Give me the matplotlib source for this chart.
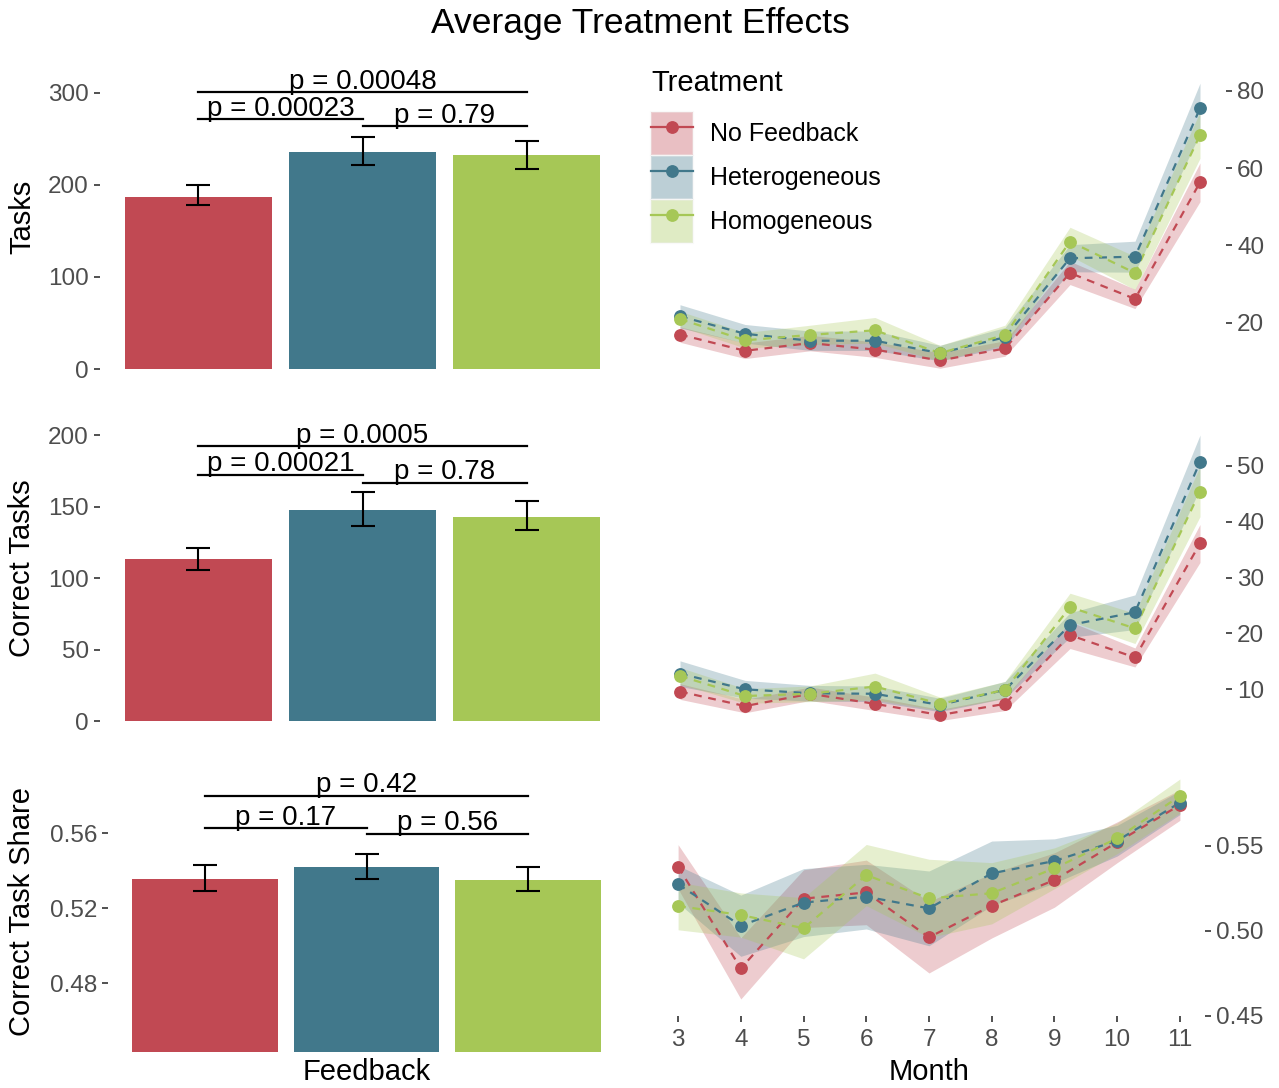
import matplotlib
matplotlib.use("Agg")
import matplotlib.pyplot as plt
import numpy as np
from matplotlib.lines import Line2D
from matplotlib.patches import Patch
from matplotlib.legend_handler import HandlerTuple
from matplotlib.ticker import FormatStrFormatter

plt.rcParams["font.family"] = ["Liberation Sans", "DejaVu Sans"]

GROUPS = ["No Feedback", "Heterogeneous", "Homogeneous"]
COLORS = ["#C14953", "#41788B", "#A6C756"]

# overall averages (bar panels)
tasks_mean = [187.0, 236.0, 232.0]
tasks_lo = [178.0, 221.0, 217.0]
tasks_hi = [200.0, 252.0, 247.0]
correct_mean = [113.6, 147.8, 143.0]
correct_lo = [105.7, 136.7, 133.6]
correct_hi = [121.3, 160.0, 153.7]
share_mean = [0.5355, 0.5419, 0.5352]
share_lo = [0.5291, 0.5357, 0.5291]
share_hi = [0.5428, 0.5488, 0.5417]

# pairwise tests: (group a, group b, bracket height, label)
tasks_tests = [(0, 2, 300.4, "p = 0.00048"), (0, 1, 271.4, "p = 0.00023"), (1, 2, 263.4, "p = 0.79")]
correct_tests = [(0, 2, 192.1, "p = 0.0005"), (0, 1, 172.3, "p = 0.00021"), (1, 2, 166.5, "p = 0.78")]
share_tests = [(0, 2, 0.5799, "p = 0.42"), (0, 1, 0.5627, "p = 0.17"), (1, 2, 0.5596, "p = 0.56")]

# monthly series
months = [3, 4, 5, 6, 7, 8, 9, 10, 11]
tasks_m = {
    "No Feedback": [17.0, 12.8, 14.8, 13.1, 10.3, 13.4, 32.9, 26.2, 56.3],
    "Heterogeneous": [21.7, 17.2, 15.4, 15.4, 12.2, 16.3, 36.7, 37.1, 75.4],
    "Homogeneous": [21.0, 15.5, 16.9, 18.1, 12.2, 16.9, 41.0, 32.9, 68.5],
}
tasks_se = {
    "No Feedback": [2.0, 2.0, 2.0, 2.0, 2.0, 2.0, 3.0, 2.5, 5.0],
    "Heterogeneous": [3.0, 2.4, 2.5, 2.5, 2.0, 2.5, 3.5, 4.0, 6.5],
    "Homogeneous": [2.0, 2.0, 2.5, 3.3, 2.0, 2.5, 3.7, 4.3, 6.0],
}
correct_m = {
    "No Feedback": [9.6, 7.0, 9.2, 7.4, 5.4, 7.4, 19.7, 15.7, 36.1],
    "Heterogeneous": [12.8, 10.0, 9.3, 9.2, 7.2, 9.9, 21.5, 23.8, 50.7],
    "Homogeneous": [12.4, 8.8, 9.2, 10.5, 7.4, 9.9, 24.7, 20.9, 45.4],
}
correct_se = {
    "No Feedback": [1.4, 1.2, 1.2, 1.2, 1.0, 1.2, 2.4, 1.7, 3.4],
    "Heterogeneous": [2.3, 1.6, 1.4, 1.4, 1.2, 1.5, 2.2, 3.1, 4.8],
    "Homogeneous": [1.5, 1.3, 1.4, 2.4, 1.2, 1.5, 2.5, 2.7, 4.5],
}
share_m = {
    "No Feedback": [0.5378, 0.478, 0.519, 0.5227, 0.4963, 0.5149, 0.530, 0.5522, 0.5741],
    "Heterogeneous": [0.5275, 0.5031, 0.5167, 0.5202, 0.5133, 0.5339, 0.5412, 0.5531, 0.5755],
    "Homogeneous": [0.5147, 0.5094, 0.5016, 0.5329, 0.5192, 0.5222, 0.5369, 0.5545, 0.5794],
}
share_se = {
    "No Feedback": [0.013, 0.018, 0.017, 0.019, 0.021, 0.019, 0.016, 0.012, 0.009],
    "Heterogeneous": [0.011, 0.018, 0.020, 0.019, 0.022, 0.019, 0.013, 0.009, 0.007],
    "Homogeneous": [0.014, 0.013, 0.018, 0.018, 0.023, 0.018, 0.012, 0.009, 0.010],
}

W, H = 1279, 1088
TICK_C = "#4D4D4D"


def rect(x0, y0, x1, y1):
    return [x0 / W, 1 - y1 / H, (x1 - x0) / W, (y1 - y0) / H]


def bar_panel(fig, box, mean, lo, hi, tests, ylim, yticks, fmt=None):
    ax = fig.add_axes(rect(*box))
    x = np.arange(len(GROUPS))
    mean = np.array(mean)
    ax.bar(x, mean, width=0.9, color=COLORS)
    ax.errorbar(x, mean, yerr=[mean - np.array(lo), np.array(hi) - mean], fmt="none",
                ecolor="black", elinewidth=1.5, capsize=8.5, capthick=1.5)
    for a, b, y, label in tests:
        ax.plot([a, b], [y, y], color="black", lw=1.6, clip_on=False)
        ax.annotate(label, xy=((a + b) / 2, y), xytext=(0, 2.5), textcoords="offset points",
                    ha="center", va="baseline", fontsize=20)
    ax.set_xlim(-0.6, 2.6)
    ax.set_ylim(*ylim)
    ax.set_yticks(yticks)
    if fmt:
        ax.yaxis.set_major_formatter(FormatStrFormatter(fmt))
    ax.set_xticks([])
    for s in ax.spines.values():
        s.set_visible(False)
    ax.tick_params(axis="y", length=4, width=1.2, color="#333333", labelcolor=TICK_C,
                   labelsize=17.5, pad=4)
    return ax


def line_panel(fig, box, series, se, ylim, yticks, fmt=None, xlabels=False):
    ax = fig.add_axes(rect(*box))
    for g, c in zip(GROUPS, COLORS):
        m = np.array(series[g])
        e = np.array(se[g])
        ax.fill_between(months, m - e, m + e, color=c, alpha=0.28, lw=0)
    for g, c in zip(GROUPS, COLORS):
        ax.plot(months, series[g], color=c, lw=1.6, dashes=(3.5, 3))
    for g, c in zip(GROUPS, COLORS):
        ax.plot(months, series[g], "o", color=c, ms=8.2)
    ax.set_xlim(2.6, 11.4)
    ax.set_ylim(*ylim)
    ax.set_yticks(yticks)
    if fmt:
        ax.yaxis.set_major_formatter(FormatStrFormatter(fmt))
    ax.yaxis.tick_right()
    for s in ax.spines.values():
        s.set_visible(False)
    ax.tick_params(axis="y", length=4, width=1.2, color="#333333", labelcolor=TICK_C,
                   labelsize=17.5, pad=4)
    if xlabels:
        ax.set_xticks(months)
        ax.tick_params(axis="x", length=4, width=1.2, color="#333333", labelcolor=TICK_C,
                       labelsize=17.5, pad=5)
    else:
        ax.set_xticks([])
    return ax


def main():
    fig = plt.figure(figsize=(W / 100, H / 100), dpi=100)

    bar_panel(fig, (100, 65, 625, 369), tasks_mean, tasks_lo, tasks_hi, tasks_tests,
              (0, 330), [0, 100, 200, 300])
    bar_panel(fig, (100, 415, 625, 721), correct_mean, correct_lo, correct_hi, correct_tests,
              (0, 214), [0, 50, 100, 150, 200])
    bar_panel(fig, (108, 770, 625, 1052), share_mean, share_lo, share_hi, share_tests,
              (0.4433, 0.5936), [0.48, 0.52, 0.56], fmt="%.2f")

    line_panel(fig, (654, 65, 1226, 381), tasks_m, tasks_se, (5.0, 86.6), [20, 40, 60, 80])
    line_panel(fig, (654, 420, 1226, 740), correct_m, correct_se, (0.93, 58.2),
               [10, 20, 30, 40, 50])
    line_panel(fig, (653, 770, 1205, 1016), share_m, share_se, (0.45, 0.5947),
               [0.45, 0.50, 0.55], fmt="%.2f", xlabels=True)

    fig.text(640 / W, 1 - 24 / H, "Average Treatment Effects", ha="center", va="center",
             fontsize=25.5)
    for label, yc in [("Tasks", 217), ("Correct Tasks", 568), ("Correct Task Share", 911)]:
        fig.text(22 / W, 1 - yc / H, label, rotation=90, ha="center", va="center", fontsize=21)
    fig.text(367 / W, 1 - 1072 / H, "Feedback", ha="center", va="center", fontsize=21)
    fig.text(929 / W, 1 - 1072 / H, "Month", ha="center", va="center", fontsize=21)

    # legend
    fig.text(651 / W, 1 - 83 / H, "Treatment", ha="left", va="center", fontsize=21)
    handles = []
    for c in COLORS:
        patch = Patch(facecolor=c, alpha=0.35, edgecolor="#F0F0F0", lw=1.5)
        line = Line2D([], [], color=c, lw=1.6, marker="o", ms=8.2)
        handles.append((patch, line))
    fig.legend(handles, GROUPS, handler_map={tuple: HandlerTuple(ndivide=1, pad=0)},
               loc="upper left", bbox_to_anchor=(651 / W, 1 - 112 / H), frameon=False,
               fontsize=18, handlelength=1.68, handleheight=2.27, labelspacing=0.04,
               handletextpad=0.68, borderpad=0, borderaxespad=0)

    fig.savefig("out.png", dpi=100)


if __name__ == "__main__":
    main()
